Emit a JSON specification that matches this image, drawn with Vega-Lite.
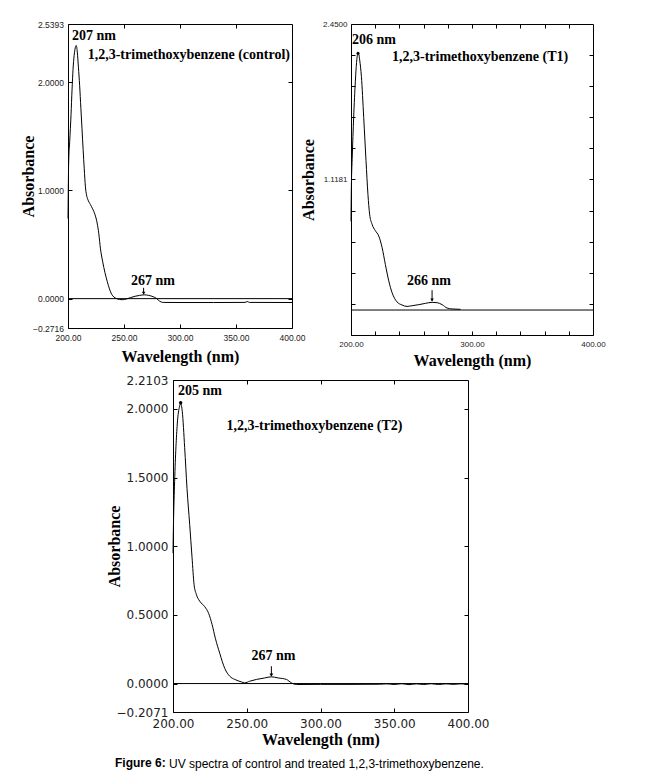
{
  "$schema": "https://vega.github.io/schema/vega-lite/v6.json",
  "background": "white",
  "padding": {"left": 20, "top": 19, "right": 5, "bottom": 5},
  "config": {
    "view": {"stroke": "black", "strokeWidth": 1},
    "axis": {"grid": false, "domain": false, "ticks": true, "tickColor": "black", "tickWidth": 1, "labelFont": "Liberation Sans", "labelColor": "#222", "titleFont": "Liberation Serif", "titleFontWeight": "bold", "titleFontSize": 16, "titleColor": "black", "labelFlush": false, "labelOverlap": false},
    "text": {"font": "Liberation Serif", "fontWeight": "bold", "fontSize": 14, "align": "left", "baseline": "middle", "color": "black"},
    "title": {"font": "Liberation Sans", "fontSize": 12, "color": "black"}
  },
  "spacing": 4,
  "title": {"text": "Figure 6:", "orient": "bottom", "anchor": "start", "frame": "group", "dx": 47, "offset": -12.5, "fontWeight": "bold"},
  "vconcat": [
    {
      "bounds": "flush",
      "spacing": 59,
      "hconcat": [
        {
          "width": 224, "height": 304,
          "resolve": {"axis": {"x": "independent", "y": "independent"}},
          "layer": [
            {
              "data": {"values": [
                {"wl":200,"abs":0.74},{"wl":200.6,"abs":1.26},{"wl":201.5,"abs":1.45},{"wl":202.7,"abs":1.7},{"wl":203.6,"abs":1.93},{"wl":204.5,"abs":2.12},{"wl":205.5,"abs":2.25},{"wl":206.5,"abs":2.32},{"wl":207.3,"abs":2.34},{"wl":208.3,"abs":2.28},{"wl":209.3,"abs":2.14},{"wl":210.4,"abs":1.97},{"wl":211.5,"abs":1.76},{"wl":212.5,"abs":1.57},{"wl":213.5,"abs":1.38},{"wl":214.5,"abs":1.2},{"wl":215.5,"abs":1.04},{"wl":216.5,"abs":0.96},{"wl":217.6,"abs":0.92},{"wl":220,"abs":0.87},{"wl":222,"abs":0.83},{"wl":224,"abs":0.78},{"wl":226,"abs":0.7},{"wl":227.5,"abs":0.6},{"wl":229,"abs":0.46},{"wl":231,"abs":0.34},{"wl":233,"abs":0.24},{"wl":235,"abs":0.16},{"wl":237,"abs":0.09},{"wl":239,"abs":0.04},{"wl":241,"abs":0.015},{"wl":243,"abs":0.002},{"wl":246,"abs":-0.008},{"wl":249,"abs":-0.01},{"wl":252,"abs":-0.004},{"wl":256,"abs":0.01},{"wl":260,"abs":0.022},{"wl":264,"abs":0.03},{"wl":268,"abs":0.035},{"wl":272,"abs":0.03},{"wl":276,"abs":0.018},{"wl":279,"abs":0.002},{"wl":282,"abs":-0.025},{"wl":285,"abs":-0.035},{"wl":300,"abs":-0.036},{"wl":330,"abs":-0.036},{"wl":358,"abs":-0.035},{"wl":360,"abs":-0.027},{"wl":362,"abs":-0.035},{"wl":400,"abs":-0.036}
              ]},
              "mark": {"type": "line", "color": "black", "strokeWidth": 1, "interpolate": "monotone"},
              "encoding": {
                "x": {"field": "wl", "type": "quantitative", "scale": {"domain": [200, 400], "nice": false, "zero": false},
                      "axis": {"orient": "bottom", "values": [200, 250, 300, 350, 400], "format": ".2f", "tickSize": -4, "labelPadding": 9, "labelFontSize": 8.5, "title": "Wavelength (nm)", "titlePadding": 7}},
                "y": {"field": "abs", "type": "quantitative", "scale": {"domain": [-0.2716, 2.5393], "nice": false, "zero": false},
                      "axis": {"orient": "left", "values": [-0.2716, 0, 1, 2, 2.5393], "format": ".4f", "tickSize": -4, "labelPadding": 8.5, "labelFontSize": 8.5, "title": "Absorbance", "titlePadding": -4}}
              }
            },
            {
              "data": {"values": [{"base": 0}]},
              "mark": {"type": "rule", "color": "black", "strokeWidth": 1},
              "encoding": {
                "y": {"field": "base", "type": "quantitative", "axis": {"orient": "right", "values": [0, 1, 2], "labels": false, "tickSize": -4, "title": null}}
              }
            },
            {
              "data": {"values": [
                {"label": "207 nm", "wl": 203.6, "abs": 2.425},
                {"label": "1,2,3-trimethoxybenzene (control)", "wl": 217.6, "abs": 2.25},
                {"label": "267 nm", "wl": 256.2, "abs": 0.162}
              ]},
              "mark": {"type": "text"},
              "encoding": {
                "x": {"field": "wl", "type": "quantitative", "axis": {"orient": "top", "values": [250, 300, 350], "labels": false, "tickSize": -4, "title": null}},
                "y": {"field": "abs", "type": "quantitative", "axis": null},
                "text": {"field": "label"}
              }
            },
            {
              "data": {"values": [{"wl": 267.5, "top": 0.1, "tip": 0.045}]},
              "mark": {"type": "rule", "color": "black", "strokeWidth": 1},
              "encoding": {
                "x": {"field": "wl", "type": "quantitative", "axis": null},
                "y": {"field": "top", "type": "quantitative", "axis": null},
                "y2": {"field": "tip"}
              }
            },
            {
              "data": {"values": [{"wl": 267.5, "tip": 0.05}]},
              "mark": {"type": "point", "shape": "triangle-down", "filled": true, "color": "black", "size": 12, "opacity": 1},
              "encoding": {
                "x": {"field": "wl", "type": "quantitative", "axis": null},
                "y": {"field": "tip", "type": "quantitative", "axis": null}
              }
            }
          ]
        },
        {
          "width": 242, "height": 311,
          "resolve": {"axis": {"x": "independent", "y": "independent"}},
          "layer": [
            {
              "data": {"values": [
                {"wl":200,"abs":0.76},{"wl":200.3,"abs":1.05},{"wl":201,"abs":1.3},{"wl":202.2,"abs":1.65},{"wl":203.6,"abs":1.96},{"wl":204.6,"abs":2.12},{"wl":205.5,"abs":2.19},{"wl":206.4,"abs":2.19},{"wl":207.2,"abs":2.14},{"wl":208.6,"abs":2.0},{"wl":210.5,"abs":1.65},{"wl":212.4,"abs":1.28},{"wl":214,"abs":0.99},{"wl":215.4,"abs":0.82},{"wl":217.4,"abs":0.735},{"wl":220.1,"abs":0.68},{"wl":222.9,"abs":0.635},{"wl":225.7,"abs":0.535},{"wl":228.4,"abs":0.39},{"wl":231.2,"abs":0.25},{"wl":233.9,"abs":0.15},{"wl":236,"abs":0.1},{"wl":238,"abs":0.07},{"wl":242.2,"abs":0.043},{"wl":246.3,"abs":0.031},{"wl":250.5,"abs":0.037},{"wl":256,"abs":0.046},{"wl":261.5,"abs":0.057},{"wl":267,"abs":0.066},{"wl":271.2,"abs":0.063},{"wl":275.3,"abs":0.046},{"wl":279.4,"abs":0.017},{"wl":283.6,"abs":0.009},{"wl":290.5,"abs":0.006}
              ]},
              "mark": {"type": "line", "color": "black", "strokeWidth": 1, "interpolate": "monotone"},
              "encoding": {
                "x": {"field": "wl", "type": "quantitative", "scale": {"domain": [200, 400], "nice": false, "zero": false},
                      "axis": {"orient": "bottom", "values": [200, 220, 240, 260, 280, 300, 320, 340, 360, 380, 400], "labelExpr": "datum.value % 100 == 0 ? format(datum.value, '.2f') : ''", "tickSize": -4, "labelPadding": 9, "labelFontSize": 8, "title": "Wavelength (nm)", "titlePadding": 4}},
                "y": {"field": "abs", "type": "quantitative", "scale": {"domain": [-0.2139, 2.45], "nice": false, "zero": false},
                      "axis": {"orient": "left", "values": [-0.2139, 0.0525, 0.3189, 0.5853, 0.8517, 1.1181, 1.3845, 1.6508, 1.9172, 2.1836, 2.45], "labelExpr": "indexof(['-0.2139', '1.1181', '2.4500'], format(datum.value, '.4f')) >= 0 ? format(datum.value, '.4f') : ''", "tickSize": -4, "labelPadding": 8, "labelFontSize": 8, "title": "Absorbance", "titlePadding": 6}}
              }
            },
            {
              "data": {"values": [{"base": 0}]},
              "mark": {"type": "rule", "color": "black", "strokeWidth": 1},
              "encoding": {
                "y": {"field": "base", "type": "quantitative", "axis": {"orient": "right", "values": [0.0525, 0.3189, 0.5853, 0.8517, 1.1181, 1.3845, 1.6508, 1.9172, 2.1836], "labels": false, "tickSize": -4, "title": null}}
              }
            },
            {
              "data": {"values": [
                {"label": "206 nm", "wl": 200.8, "abs": 2.316},
                {"label": "1,2,3-trimethoxybenzene (T1)", "wl": 233.9, "abs": 2.17},
                {"label": "266 nm", "wl": 246.3, "abs": 0.25}
              ]},
              "mark": {"type": "text"},
              "encoding": {
                "x": {"field": "wl", "type": "quantitative", "axis": {"orient": "top", "values": [220, 240, 260, 280, 300, 320, 340, 360, 380], "labels": false, "tickSize": -4, "title": null}},
                "y": {"field": "abs", "type": "quantitative", "axis": null},
                "text": {"field": "label"}
              }
            },
            {
              "data": {"values": [{"wl": 267, "top": 0.17, "tip": 0.08}]},
              "mark": {"type": "rule", "color": "black", "strokeWidth": 1},
              "encoding": {
                "x": {"field": "wl", "type": "quantitative", "axis": null},
                "y": {"field": "top", "type": "quantitative", "axis": null},
                "y2": {"field": "tip"}
              }
            },
            {
              "data": {"values": [{"wl": 267, "tip": 0.085}]},
              "mark": {"type": "point", "shape": "triangle-down", "filled": true, "color": "black", "size": 12, "opacity": 1},
              "encoding": {
                "x": {"field": "wl", "type": "quantitative", "axis": null},
                "y": {"field": "tip", "type": "quantitative", "axis": null}
              }
            },
            {
              "data": {"values": [{"wl": 205.8, "abs": 2.2}]},
              "mark": {"type": "point", "shape": "circle", "filled": true, "color": "black", "size": 9, "opacity": 1},
              "encoding": {
                "x": {"field": "wl", "type": "quantitative", "axis": null},
                "y": {"field": "abs", "type": "quantitative", "axis": null}
              }
            }
          ]
        }
      ]
    },
    {
      "bounds": "flush",
      "spacing": 0,
      "hconcat": [
        {
          "width": 105, "height": 10,
          "view": {"stroke": null},
          "data": {"values": [{"blank": ""}]},
          "mark": {"type": "text"},
          "encoding": {"text": {"field": "blank"}}
        },
        {
          "width": 295, "height": 332,
          "title": {"text": "UV spectra of control and treated 1,2,3-trimethoxybenzene.", "orient": "bottom", "anchor": "start", "frame": "group", "dx": -4, "offset": 11.5, "fontWeight": "normal"},
          "resolve": {"axis": {"x": "independent", "y": "independent"}},
          "layer": [
            {
              "data": {"values": [
                {"wl":200,"abs":0.95},{"wl":200.3,"abs":1.15},{"wl":201.1,"abs":1.47},{"wl":202.9,"abs":1.89},{"wl":204.5,"abs":2.02},{"wl":205.2,"abs":2.04},{"wl":206.3,"abs":1.98},{"wl":207.9,"abs":1.72},{"wl":209.5,"abs":1.42},{"wl":211.3,"abs":1.16},{"wl":212.9,"abs":0.92},{"wl":214.3,"abs":0.72},{"wl":215.8,"abs":0.65},{"wl":218.1,"abs":0.6},{"wl":221.5,"abs":0.56},{"wl":224.2,"abs":0.51},{"wl":226.5,"abs":0.43},{"wl":228.7,"abs":0.33},{"wl":231.7,"abs":0.22},{"wl":235.1,"abs":0.11},{"wl":238.5,"abs":0.053},{"wl":241.9,"abs":0.03},{"wl":246.4,"abs":0.012},{"wl":248.6,"abs":0.005},{"wl":252,"abs":0.017},{"wl":256.6,"abs":0.03},{"wl":262.2,"abs":0.041},{"wl":266.7,"abs":0.049},{"wl":271.3,"abs":0.041},{"wl":276.9,"abs":0.03},{"wl":280.3,"abs":0.005},{"wl":283.7,"abs":-0.007},{"wl":300,"abs":-0.006},{"wl":320,"abs":-0.006},{"wl":340,"abs":-0.005},{"wl":345,"abs":-0.002},{"wl":350,"abs":-0.007},{"wl":355,"abs":-0.001},{"wl":360,"abs":-0.008},{"wl":365,"abs":-0.002},{"wl":370,"abs":-0.007},{"wl":375,"abs":-0.001},{"wl":380,"abs":-0.007},{"wl":385,"abs":-0.002},{"wl":390,"abs":-0.006},{"wl":395,"abs":-0.002},{"wl":400,"abs":-0.005}
              ]},
              "mark": {"type": "line", "color": "black", "strokeWidth": 1, "interpolate": "monotone"},
              "encoding": {
                "x": {"field": "wl", "type": "quantitative", "scale": {"domain": [200, 400], "nice": false, "zero": false},
                      "axis": {"orient": "bottom", "values": [200, 250, 300, 350, 400], "format": ".2f", "tickSize": -4, "labelPadding": 10, "labelFont": "DejaVu Sans", "labelFontSize": 12, "title": "Wavelength (nm)", "titlePadding": 2}},
                "y": {"field": "abs", "type": "quantitative", "scale": {"domain": [-0.2071, 2.2103], "nice": false, "zero": false},
                      "axis": {"orient": "left", "values": [-0.2071, 0, 0.5, 1, 1.5, 2, 2.2103], "format": ".4f", "tickSize": -4, "labelPadding": 9, "labelFont": "DejaVu Sans", "labelFontSize": 12, "title": "Absorbance", "titlePadding": -7}}
              }
            },
            {
              "data": {"values": [{"base": 0}]},
              "mark": {"type": "rule", "color": "black", "strokeWidth": 1},
              "encoding": {
                "y": {"field": "base", "type": "quantitative", "axis": {"orient": "right", "values": [0, 0.5, 1, 1.5, 2], "labels": false, "tickSize": -4, "title": null}}
              }
            },
            {
              "data": {"values": [
                {"label": "205 nm", "wl": 203.4, "abs": 2.13},
                {"label": "1,2,3-trimethoxybenzene (T2)", "wl": 236.2, "abs": 1.874},
                {"label": "267 nm", "wl": 253.2, "abs": 0.2}
              ]},
              "mark": {"type": "text"},
              "encoding": {
                "x": {"field": "wl", "type": "quantitative", "axis": {"orient": "top", "values": [250, 300, 350], "labels": false, "tickSize": -4, "title": null}},
                "y": {"field": "abs", "type": "quantitative", "axis": null},
                "text": {"field": "label"}
              }
            },
            {
              "data": {"values": [{"wl": 266.7, "top": 0.126, "tip": 0.06}]},
              "mark": {"type": "rule", "color": "black", "strokeWidth": 1},
              "encoding": {
                "x": {"field": "wl", "type": "quantitative", "axis": null},
                "y": {"field": "top", "type": "quantitative", "axis": null},
                "y2": {"field": "tip"}
              }
            },
            {
              "data": {"values": [{"wl": 266.7, "tip": 0.062}]},
              "mark": {"type": "point", "shape": "triangle-down", "filled": true, "color": "black", "size": 14, "opacity": 1},
              "encoding": {
                "x": {"field": "wl", "type": "quantitative", "axis": null},
                "y": {"field": "tip", "type": "quantitative", "axis": null}
              }
            },
            {
              "data": {"values": [{"wl": 205.2, "abs": 2.045}]},
              "mark": {"type": "point", "shape": "circle", "filled": true, "color": "black", "size": 12, "opacity": 1},
              "encoding": {
                "x": {"field": "wl", "type": "quantitative", "axis": null},
                "y": {"field": "abs", "type": "quantitative", "axis": null}
              }
            }
          ]
        }
      ]
    }
  ]
}
